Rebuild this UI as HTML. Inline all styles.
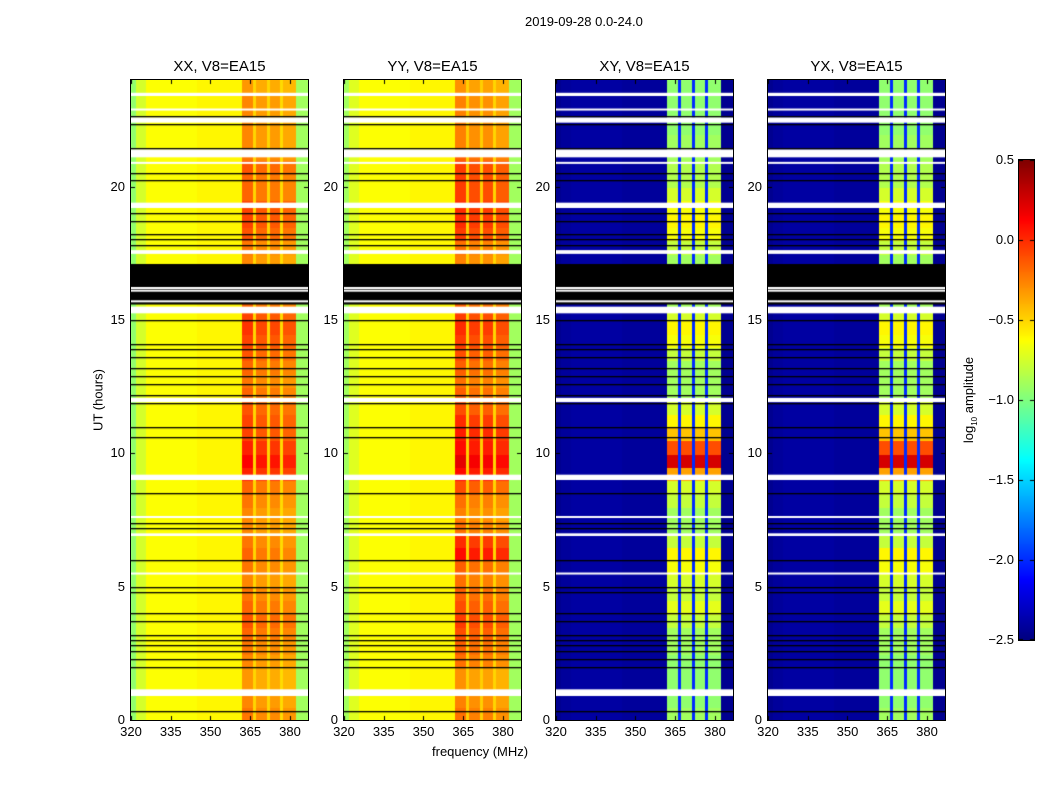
<!DOCTYPE html>
<html><head><meta charset="utf-8">
<style>
body{margin:0;background:#fff;font-family:"Liberation Sans","DejaVu Sans",sans-serif;}
#wrap{position:relative;width:1050px;height:800px;overflow:hidden;background:#fff}
.t{position:absolute;font-size:13px;color:#000;white-space:nowrap}
.pt{position:absolute;font-size:15px;color:#000;white-space:nowrap;transform:translateX(-50%)}
canvas{position:absolute}
.frame{position:absolute;border:1px solid #000;box-sizing:border-box}
</style></head><body>
<div id="wrap">
<div class="t" style="left:525px;top:14px">2019-09-28 0.0-24.0</div>
<div class="t" style="left:432px;top:744px">frequency (MHz)</div>
<div class="t" style="left:98px;top:400px;transform:translate(-50%,-50%) rotate(-90deg)">UT (hours)</div>
<div class="t" style="left:970px;top:400px;transform:translate(-50%,-50%) rotate(-90deg)">log<sub style="font-size:8px">10</sub> amplitude</div>
<canvas id="cb" width="15" height="480" style="left:1019px;top:160px"></canvas>
<div class="frame" style="left:1018px;top:159px;width:17px;height:482px"></div>
</div>
<script>
// ---- data ----
const panelNames = ["XX, V8=EA15","YY, V8=EA15","XY, V8=EA15","YX, V8=EA15"];
const freqEdges = [320,322,326,345,362,366.3,367.5,371.5,372.7,376.5,377.7,382.6,387];
const isBand    = [0,0,0,0,1,0,1,0,1,0,1,0];
const segXX = [-0.95,-0.75,-0.63,-0.6,-0.32,-0.5,-0.38,-0.5,-0.38,-0.52,-0.42,-0.9];
const segYY = [-0.9,-0.72,-0.63,-0.6,-0.3,-0.48,-0.35,-0.48,-0.35,-0.5,-0.4,-0.9];
const segXY = [-2.45,-2.42,-2.4,-2.42,-0.95,-2.0,-0.95,-2.0,-0.95,-2.0,-0.95,-2.45];
const segYX = [-2.45,-2.42,-2.4,-2.42,-0.95,-2.0,-0.95,-2.0,-0.95,-2.0,-0.95,-2.45];
// band boost per half hour (0h..24h)
const boostXX = [0.1,0.05,0.0,0.0,0.05,0.1,0.15,0.2,0.15,0.1,0.05,0.1,0.15,0.1,0.05,0.05,0.1,0.15,0.35,0.45,0.35,0.25,0.25,0.2,0.15,0.1,0.15,0.2,0.25,0.3,0.25,0.15,0.05,0.05,0.05,0.1,0.2,0.25,0.25,0.15,0.15,0.2,0.1,0.05,0.05,0.05,0.05,0.0];
const boostYY = [0.1,0.05,0.0,0.0,0.1,0.15,0.2,0.25,0.2,0.15,0.1,0.15,0.4,0.3,0.1,0.05,0.1,0.2,0.4,0.5,0.4,0.35,0.3,0.2,0.15,0.1,0.15,0.2,0.25,0.3,0.25,0.15,0.05,0.05,0.05,0.1,0.25,0.3,0.3,0.25,0.25,0.25,0.15,0.05,0.05,0.05,0.05,0.0];
const boostXY = [0.05,0.0,0.0,0.0,0.0,0.05,0.05,0.15,0.25,0.15,0.2,0.3,0.35,0.15,0.05,0.05,0.15,0.2,0.6,1.2,0.85,0.5,0.35,0.2,0.05,0.05,0.05,0.15,0.3,0.35,0.2,0.05,0.05,0.05,0.05,0.15,0.3,0.35,0.3,0.2,0.1,0.1,0.05,0.05,0.0,0.0,0.0,0.0];
const boostYX = [0.05,0.0,0.0,0.0,0.0,0.05,0.05,0.15,0.25,0.15,0.2,0.3,0.35,0.15,0.05,0.05,0.15,0.2,0.6,1.2,0.85,0.5,0.35,0.2,0.05,0.05,0.05,0.15,0.3,0.35,0.2,0.05,0.05,0.05,0.05,0.15,0.3,0.35,0.3,0.2,0.1,0.1,0.05,0.05,0.0,0.0,0.0,0.0];
const whiteGaps = [[23.4,23.52],[22.88,22.93],[22.4,22.6],[21.1,21.4],[20.88,20.93],[19.2,19.4],[17.48,17.62],[15.25,15.5],[11.92,12.08],[9.0,9.2],[7.6,7.65],[6.9,7.0],[5.48,5.53],[0.9,1.15]];
const blackBlocks = [[15.58,17.1]];
const whiteInBlock = [16.2,16.1,15.7];
const blackLines = [22.65,22.35,21.45,20.5,20.26,19.0,18.7,18.24,18.05,17.83,15.0,14.1,13.9,13.6,13.2,12.9,12.6,12.2,11.88,11.0,10.6,8.5,7.4,7.2,6.0,5.0,4.8,4.0,3.7,3.2,3.0,2.8,2.6,2.3,2.0,0.35];
const xTicks = [320,335,350,365,380];
const yTicks = [0,5,10,15,20];
const cbTicks = [0.5,0.0,-0.5,-1.0,-1.5,-2.0,-2.5];
const cbLabels = ["0.5","0.0","\u22120.5","\u22121.0","\u22121.5","\u22122.0","\u22122.5"];
// ---- layout ----
const panelLeft = [131,344,556,768];
const PW=177, PT=80, PB=720, FMIN=320, FMAX=386.8, VMIN=-2.5, VMAX=0.5;
const segs=[segXX,segYY,segXY,segYX], boosts=[boostXX,boostYY,boostXY,boostYX];
function xs(f){return (f-FMIN)/(FMAX-FMIN)*PW;}
function ys(h){return (24-h)/24*(PB-PT);}
function jet(v){let t=(v-VMIN)/(VMAX-VMIN);t=Math.max(0,Math.min(1,t));
 const r=Math.min(Math.max(Math.min(4*t-1.5,-4*t+4.5),0),1),g=Math.min(Math.max(Math.min(4*t-0.5,-4*t+3.5),0),1),b=Math.min(Math.max(Math.min(4*t+0.5,-4*t+2.5),0),1);
 return `rgb(${Math.round(r*255)},${Math.round(g*255)},${Math.round(b*255)})`;}
const wrap=document.getElementById('wrap');
function addText(txt,x,y,name,align){const d=document.createElement('div');d.className='t';d.textContent=txt;
 d.style.left=x+'px';d.style.top=y+'px';d.style.transform=align;
 
 
 wrap.appendChild(d);}
panelNames.forEach((nm,p)=>{
 const L=panelLeft[p];
 const c=document.createElement('canvas');c.width=PW;c.height=PB-PT;c.style.left=L+'px';c.style.top=PT+'px';
 
 
 wrap.appendChild(c);
 const ctx=c.getContext('2d');
 const bst=boosts[p], sg=segs[p];
 for(let t=0;t<bst.length;t++){
  const h0=t*0.5,h1=h0+0.5,y0=ys(h1),y1=ys(h0);
  for(let s=0;s<sg.length;s++){
   const v=sg[s]+(isBand[s]?bst[t]:0);
   ctx.fillStyle=jet(v);
   const x0=xs(freqEdges[s]),x1=xs(freqEdges[s+1]);
   ctx.fillRect(Math.floor(x0),Math.floor(y0),Math.ceil(x1-x0)+1,Math.ceil(y1-y0)+1);
  }
 }
 ctx.fillStyle='#000';
 blackBlocks.forEach(b=>{ctx.fillRect(0,ys(b[1]),PW,ys(b[0])-ys(b[1]));});
 ctx.fillStyle='#fff';
 whiteInBlock.forEach(h=>ctx.fillRect(0,ys(h)-1,PW,2));
 whiteGaps.forEach(g=>{ctx.fillRect(0,ys(g[1]),PW,Math.max(2,ys(g[0])-ys(g[1])));});
 ctx.fillStyle='#000';
 blackLines.forEach(h=>ctx.fillRect(0,Math.round(ys(h)),PW,1.3));
 // ticks
 ctx.fillStyle='#000';
 xTicks.forEach(f=>{const x=Math.round(xs(f));ctx.fillRect(x,PB-PT-4,1,4);ctx.fillRect(x,0,1,4);});
 yTicks.forEach(h=>{const y=Math.round(ys(h));ctx.fillRect(0,y,4,1);ctx.fillRect(PW-4,y,4,1);});
 const fr=document.createElement('div');fr.className='frame';
 fr.style.cssText=`left:${L-1}px;top:${PT-1}px;width:${PW+2}px;height:${PB-PT+2}px`;
 
 
 wrap.appendChild(fr);
 const ti=document.createElement('div');ti.className='pt';ti.textContent=nm;
 ti.style.left=(L+PW/2)+'px';ti.style.top='58px';
 
 
 wrap.appendChild(ti);
 xTicks.forEach(f=>addText(String(f),L+xs(f),724,'x-tick-label','translateX(-50%)'));
 yTicks.forEach(h=>addText(String(h),L-6,PT+ys(h)-8,'y-tick-label','translateX(-100%)'));
});
// colorbar
const cb=document.getElementById('cb').getContext('2d');
for(let i=0;i<480;i++){cb.fillStyle=jet(VMAX-(i+0.5)/480*(VMAX-VMIN));cb.fillRect(0,i,15,1);}
cbTicks.forEach((v,i)=>{const y=160+(VMAX-v)/(VMAX-VMIN)*480;
 cb.fillStyle='#000';const yy=Math.round(y-160);cb.fillRect(0,Math.min(479,yy),4,1);cb.fillRect(11,Math.min(479,yy),4,1);
 addText(cbLabels[i],1014,y-8,'colorbar-tick-label','translateX(-100%)');});
</script>
</body></html>
